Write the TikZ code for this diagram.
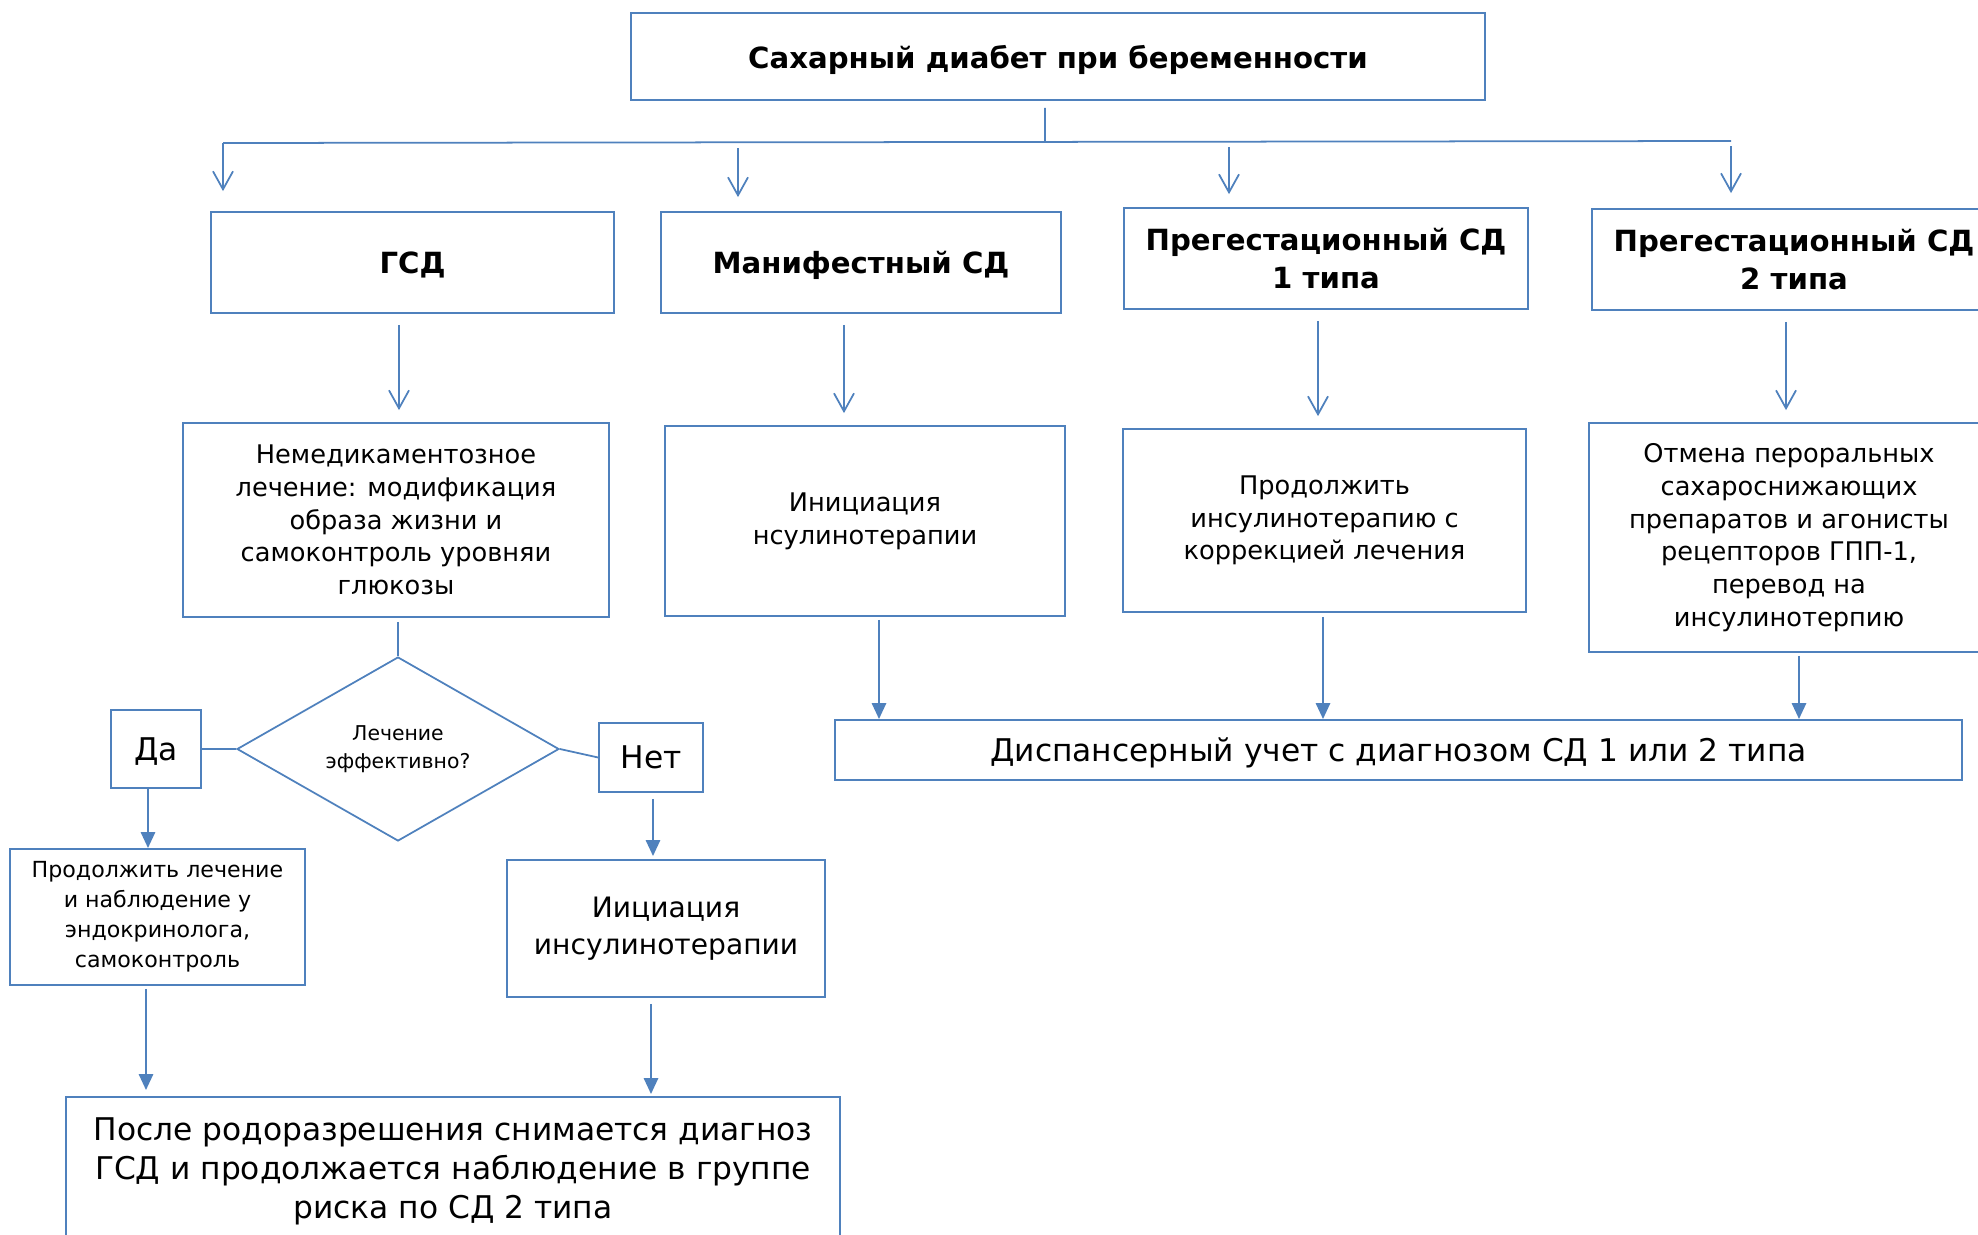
\documentclass[tikz,border=0pt]{standalone}
\usepackage{fontspec}
\setmainfont{DejaVu Sans}
\usetikzlibrary{positioning,shapes.geometric,arrows.meta}
\definecolor{lineblue}{RGB}{79,129,189}

\begin{document}
\begin{tikzpicture}[x=0.1mm,y=-0.1mm,
  box/.style={draw=lineblue,line width=0.5pt,align=center,inner sep=0pt},
  head/.style={box,font=\fontsize{8.3}{10.8}\selectfont\bfseries},
  txt/.style={box,font=\fontsize{7.3}{9.3}\selectfont},
  smalltxt/.style={box,font=\fontsize{6.3}{8.5}\selectfont},
  midtxt/.style={box,font=\fontsize{8}{10.4}\selectfont},
  bigtxt/.style={box,font=\fontsize{8.9}{11.1}\selectfont},
  link/.style={draw=lineblue,line width=0.5pt},
  thinarr/.style={link,-{Straight Barb[length=1.8mm,width=2mm]},shorten <=1.1mm,shorten >=1.2mm},
  thickarr/.style={draw=lineblue,line width=0.8pt,-{Triangle[length=1.6mm,width=1.4mm]}}]

  \useasboundingbox (0,0) rectangle (1978,1234);
  \clip (0,0) rectangle (1978,1234);

  \node[head,minimum width=85.4mm,minimum height=8.7mm,text depth=0pt] (0) at (1058,56.5) {Сахарный диабет при беременности};
  \node[head,minimum width=40.3mm,minimum height=10.1mm,text depth=0pt] (1) at (412.5,262.5) {ГСД};
  \node[head,minimum width=40mm,minimum height=10.1mm,text depth=0pt] (2) at (861,262.5) {Манифестный СД};
  \node[head,minimum width=40.4mm,minimum height=10.1mm] (3) at (1326,258.5) {Прегестационный СД\\1 типа};
  \node[head,minimum width=40.4mm,minimum height=10.1mm] (4) at (1794,259.5) {Прегестационный СД\\2 типа};

  \node[txt,minimum width=42.6mm,minimum height=19.4mm] (5) at (396,520) {Немедикаментозное\\лечение: модификация\\образа жизни и\\самоконтроль уровняи\\глюкозы};
  \node[txt,minimum width=40mm,minimum height=19mm] (6) at (865,521) {Инициация\\нсулинотерапии};
  \node[txt,minimum width=40.3mm,minimum height=18.3mm] (7) at (1324.5,520.5) {Продолжить\\инсулинотерапию с\\коррекцией лечения};
  \node[txt,minimum width=40mm,minimum height=22.9mm] (8) at (1789,537.5) {Отмена пероральных\\сахароснижающих\\препаратов и агонисты\\рецепторов ГПП-1,\\перевод на\\инсулинотерпию};

  \node[box,shape=diamond,aspect=1.75,minimum width=32.2mm,minimum height=18.4mm,font=\fontsize{5.8}{8}\selectfont] (9) at (398,749) {Лечение\\эффективно?};
  \node[bigtxt,minimum width=9mm,minimum height=7.8mm,text depth=0pt] (10) at (156,749) {Да};
  \node[bigtxt,minimum width=10.4mm,minimum height=6.9mm,text depth=0pt] (11) at (651,757.5) {Нет};

  \node[smalltxt,minimum width=29.5mm,minimum height=13.6mm] (12) at (157.5,917) {Продолжить лечение\\и наблюдение у\\эндокринолога,\\самоконтроль};
  \node[midtxt,minimum width=31.8mm,minimum height=13.7mm] (13) at (666,928.5) {Иициация\\инсулинотерапии};
  \node[bigtxt,minimum width=77.4mm,minimum height=14.8mm] (14) at (453,1171) {После родоразрешения снимается диагноз\\ГСД и продолжается наблюдение в группе\\риска по СД 2 типа};
  \node[bigtxt,minimum width=112.7mm,minimum height=6mm,text depth=0pt] (15) at (1398.5,750) {Диспансерный учет с диагнозом СД 1 или 2 типа};

  % bus under the title
  \coordinate (bj) at (1045,142);
  \coordinate (b1) at (223,143);
  \coordinate (b2) at (738,143);
  \coordinate (b3) at (1229,142);
  \coordinate (b4) at (1731,141);
  \draw[link,shorten <=0.7mm] ([xshift=-1.3mm]0.south) -- (bj);
  \draw[link] (b1) -- (b4);
  \draw[thinarr,shorten <=0pt,shorten >=2mm] (b1) -- (b1 |- 1.north);
  \draw[thinarr,shorten <=0.5mm,shorten >=1.4mm] (b2) -- (b2 |- 2.north);
  \draw[thinarr,shorten <=0.5mm,shorten >=1.3mm] (b3) -- (b3 |- 3.north);
  \draw[thinarr,shorten <=0.5mm,shorten >=1.5mm] (b4) -- (b4 |- 4.north);

  \draw[thinarr] ([xshift=-1.35mm]1.south) -- ([xshift=-1.35mm]1.south |- 5.north);
  \draw[thinarr] ([xshift=-1.7mm]2.south) -- ([xshift=-1.7mm]2.south |- 6.north);
  \draw[thinarr] ([xshift=-0.8mm]3.south) -- ([xshift=-0.8mm]3.south |- 7.north);
  \draw[thinarr] ([xshift=-0.8mm]4.south) -- ([xshift=-0.8mm]4.south |- 8.north);

  % decision
  \draw[link,shorten <=0.4mm] (5.south -| 9.north) -- (9.north);
  \draw[link] (10.east) -- (9.west);
  \draw[link] (9.east) -- (11.west);
  \draw[thickarr] ([xshift=-0.8mm]10.south) -- ([xshift=-0.8mm]10.south |- 12.north);
  \draw[thickarr,shorten <=0.6mm,shorten >=0.3mm] ([xshift=0.2mm]11.south) -- ([xshift=0.2mm]11.south |- 13.north);
  \draw[thickarr,shorten <=0.3mm,shorten >=0.6mm] ([xshift=-1.15mm]12.south) -- ([xshift=-1.15mm]12.south |- 14.north);
  \draw[thickarr,shorten <=0.6mm,shorten >=0.2mm] ([xshift=-1.5mm]13.south) -- ([xshift=-1.5mm]13.south |- 14.north);

  \draw[thickarr,shorten <=0.3mm] ([xshift=1.4mm]6.south) -- ([xshift=1.4mm]6.south |- 15.north);
  \draw[thickarr,shorten <=0.4mm] ([xshift=-0.15mm]7.south) -- ([xshift=-0.15mm]7.south |- 15.north);
  \draw[thickarr,shorten <=0.3mm] ([xshift=1mm]8.south) -- ([xshift=1mm]8.south |- 15.north);
\end{tikzpicture}
\end{document}
